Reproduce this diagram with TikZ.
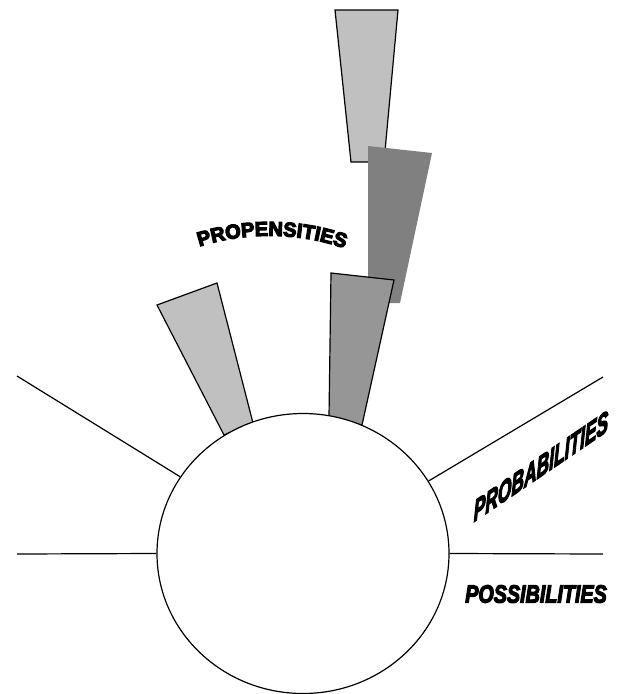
\documentclass[tikz,border=0pt]{standalone}
\usepackage{fontspec}
\usepackage{graphicx}
\setmainfont{Liberation Sans}
\newfontfamily\heavyfont{Liberation Sans}[BoldFeatures={FakeBold=6},BoldItalicFeatures={FakeBold=5}]
\usepackage{tikz}
\usetikzlibrary{shapes.geometric,decorations.text}

\definecolor{lightbeam}{HTML}{C0C0C0}
\definecolor{midbeam}{HTML}{969696}
\definecolor{darkbeam}{HTML}{808080}

\begin{document}
\begin{tikzpicture}[
  x=1pt, y=-1pt,
  beam/.style={draw=black, line width=1.2pt, line join=miter},
  globe/.style={draw=black, ellipse, line width=1.2pt, fill=white,
    minimum width=292pt, minimum height=280pt, inner sep=0pt},
  ray/.style={draw=black, line width=1.2pt},
  tag/.style={inner sep=0pt, transform shape}
]
\useasboundingbox (0,0) rectangle (625,694);

\filldraw[beam, fill=lightbeam] (335,10) -- (398,10) -- (384,162) -- (351,162) -- cycle;
\fill[darkbeam] (368,146) -- (432,153) -- (400,303) -- (368,303) -- cycle;
\filldraw[beam, fill=midbeam] (331,273) -- (394,280) -- (362,425) -- (329,417) -- cycle;
\filldraw[beam, fill=lightbeam] (157,305) -- (217,283) -- (253,423) -- (224,435) -- cycle;

\node[globe] (globe) at (303,553.5) {};

\coordinate (nw) at (17,376);
\coordinate (w) at (17,554);
\coordinate (ne) at (603,377);
\coordinate (e) at (603,554);

\draw[ray] (nw) -- (globe.148);
\draw[ray] (w) -- (globe.west);
\draw[ray] (ne) -- (globe.30);
\draw[ray] (e) -- (globe.east);

\path[decorate, decoration={text along path,
    text={|\heavyfont\bfseries\fontsize{20}{20}\selectfont|PROPENSITIES},
    text align=center}]
  (192,249) .. controls (243,231) and (300,231) .. (352,251);

\node[tag, yslant=0.68, font=\heavyfont\bfseries\itshape\fontsize{30}{30}\selectfont]
  (prob) at (541,466) {\scalebox{0.58}[1]{PROBABILITIES}};
\node[tag, font=\heavyfont\bfseries\itshape\fontsize{25}{25}\selectfont]
  (poss) at (536,594) {\scalebox{0.79}[1]{POSSIBILITIES}};
\end{tikzpicture}
\end{document}
